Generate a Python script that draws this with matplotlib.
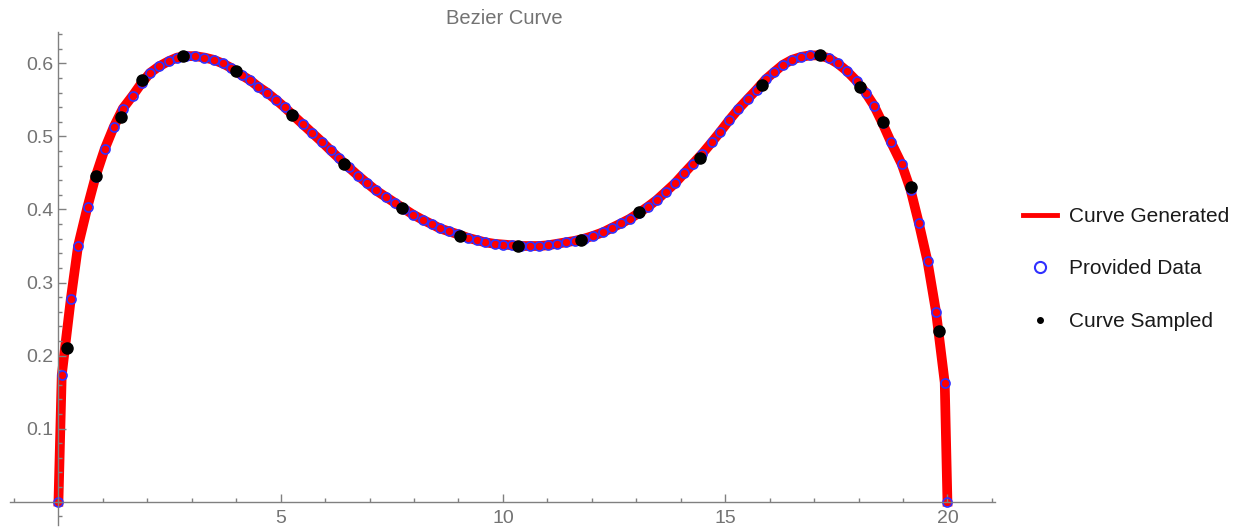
import matplotlib.pyplot as plt
from matplotlib.lines import Line2D
from matplotlib.ticker import FixedLocator, MultipleLocator

plt.rcParams['font.family'] = ['Liberation Sans', 'DejaVu Sans']

# provided data points (the generated curve runs through them)
data_x = [0.0, 0.074, 0.277, 0.441, 0.655, 0.835, 1.042, 1.244, 1.447, 1.672,
          1.870, 2.061, 2.263, 2.477, 2.668, 2.871, 3.073, 3.282, 3.489, 3.692,
          3.883, 4.119, 4.310, 4.497, 4.693, 4.895, 5.087, 5.278, 5.492, 5.705,
          5.919, 6.122, 6.313, 6.526, 6.747, 6.943, 7.145, 7.370, 7.573, 7.775,
          7.978, 8.191, 8.394, 8.585, 8.787, 8.990, 9.222, 9.411, 9.604, 9.811,
          10.009, 10.205, 10.407, 10.610, 10.812, 11.015, 11.210, 11.408, 11.611, 11.825,
          12.034, 12.259, 12.454, 12.657, 12.848, 13.051, 13.264, 13.460, 13.658, 13.872,
          14.081, 14.265, 14.479, 14.698, 14.884, 15.087, 15.289, 15.503, 15.705, 15.908,
          16.099, 16.295, 16.504, 16.713, 16.909, 17.112, 17.336, 17.528, 17.730, 17.955,
          18.157, 18.349, 18.540, 18.731, 18.972, 19.170, 19.354, 19.552, 19.743, 19.939,
          20.0]
data_y = [0.0, 0.173, 0.277, 0.350, 0.404, 0.445, 0.483, 0.513, 0.538, 0.556,
          0.573, 0.587, 0.596, 0.603, 0.608, 0.610, 0.610, 0.608, 0.605, 0.600,
          0.594, 0.584, 0.577, 0.568, 0.560, 0.550, 0.540, 0.529, 0.517, 0.505,
          0.493, 0.481, 0.470, 0.458, 0.446, 0.436, 0.426, 0.417, 0.409, 0.401,
          0.393, 0.386, 0.380, 0.374, 0.370, 0.366, 0.361, 0.358, 0.355, 0.353,
          0.352, 0.351, 0.350, 0.350, 0.350, 0.351, 0.353, 0.355, 0.357, 0.360,
          0.364, 0.369, 0.375, 0.381, 0.387, 0.395, 0.404, 0.413, 0.424, 0.436,
          0.450, 0.462, 0.476, 0.492, 0.506, 0.522, 0.537, 0.551, 0.564, 0.578,
          0.588, 0.598, 0.605, 0.609, 0.611, 0.611, 0.607, 0.600, 0.590, 0.576,
          0.560, 0.542, 0.518, 0.492, 0.462, 0.427, 0.382, 0.329, 0.260, 0.163,
          0.0]

# points sampled from the generated curve
sample_x = [0.200, 0.846, 1.402, 1.888, 2.792, 3.989, 5.249, 6.425, 7.723, 9.035,
            10.346, 11.757, 13.069, 14.427, 15.818, 17.134, 18.034, 18.540, 19.170, 19.811]
sample_y = [0.210, 0.446, 0.527, 0.577, 0.610, 0.590, 0.530, 0.462, 0.402, 0.364,
            0.350, 0.358, 0.396, 0.471, 0.570, 0.612, 0.568, 0.520, 0.431, 0.233]

x_ticks = [5, 10, 15, 20]
y_ticks = [0.1, 0.2, 0.3, 0.4, 0.5, 0.6]
labels = ['Curve Generated', 'Provided Data', 'Curve Sampled']

axis_grey = '#808080'
label_grey = '#737373'

fig = plt.figure(figsize=(12.37, 5.27), dpi=100)
ax = fig.add_axes([10 / 1237, 2 / 527, 985 / 1237, 493 / 527])

ax.plot(data_x, data_y, color='red', lw=7, solid_joinstyle='round', zorder=1)
ax.plot(data_x, data_y, ls='none', marker='o', ms=6.5, mfc='none',
        mec='#3030ff', mew=1.2, zorder=2)
ax.plot(sample_x, sample_y, ls='none', marker='o', ms=8, color='black', zorder=3)

ax.set_xlim(-1.09, 21.07)
ax.set_ylim(-0.032, 0.643)

# axes crossing at the origin
for side in ['top', 'right']:
    ax.spines[side].set_visible(False)
for side in ['left', 'bottom']:
    ax.spines[side].set_position(('data', 0))
    ax.spines[side].set_color(axis_grey)
    ax.spines[side].set_linewidth(1.0)

ax.xaxis.set_major_locator(FixedLocator(x_ticks))
ax.xaxis.set_minor_locator(MultipleLocator(1))
ax.yaxis.set_major_locator(FixedLocator(y_ticks))
ax.yaxis.set_minor_locator(MultipleLocator(0.02))
ax.set_xticklabels([str(t) for t in x_ticks])
ax.set_yticklabels([f'{t:.1f}' for t in y_ticks])

ax.tick_params(which='both', direction='in', color=axis_grey, width=1.0,
               labelcolor=label_grey, labelsize=14)
ax.tick_params(which='major', length=5.5)
ax.tick_params(which='minor', length=3)
ax.tick_params(axis='x', pad=6)
ax.tick_params(axis='y', pad=3.5)

fig.text(504 / 1237, 1 - 18 / 527, 'Bezier Curve', ha='center', va='center',
         color=label_grey, fontsize=14.5)

handles = [
    Line2D([], [], color='red', lw=3.5),
    Line2D([], [], ls='none', marker='o', ms=8, mfc='none', mec='#3030ff', mew=1.5),
    Line2D([], [], ls='none', marker='o', ms=4, color='black'),
]
fig.legend(handles, labels, loc='center left',
           bbox_to_anchor=(1023 / 1237, 1 - 269 / 527),
           frameon=False, fontsize=15, handlelength=1.65, handletextpad=0.55,
           labelspacing=1.6, borderpad=0, borderaxespad=0, labelcolor='#1a1a1a')

fig.savefig('out.png', dpi=100)
